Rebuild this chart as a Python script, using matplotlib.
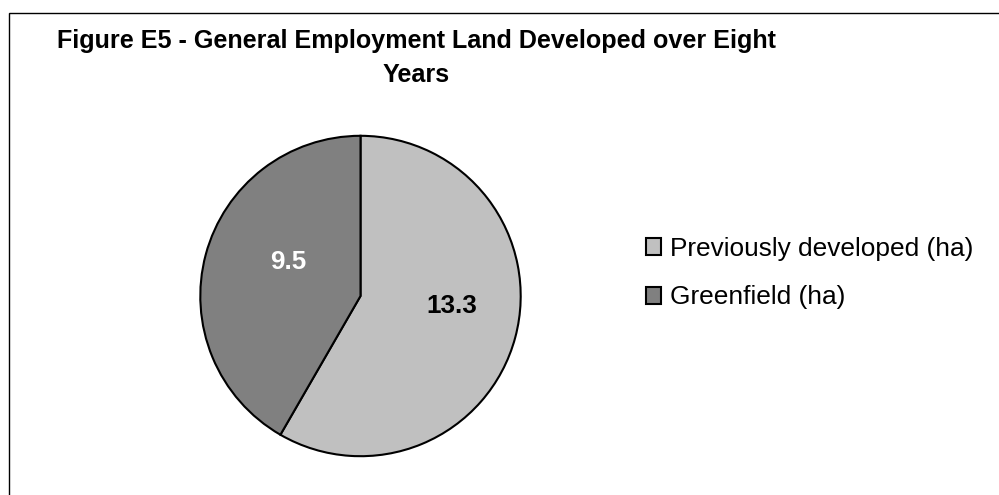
import matplotlib
matplotlib.use("Agg")
import matplotlib.pyplot as plt
from matplotlib.patches import Rectangle, Patch

plt.rcParams['font.family'] = ['Liberation Sans', 'DejaVu Sans']

categories = ["Previously developed (ha)", "Greenfield (ha)"]
values = [13.3, 9.5]
value_labels = ["13.3", "9.5"]
colors = ["#C0C0C0", "#808080"]
label_colors = ["black", "white"]

W, H = 999, 495
fig = plt.figure(figsize=(W / 100, H / 100), dpi=100)
fig.patch.set_facecolor("white")

# outer frame (extends past right / bottom edges as in reference)
fig.patches.append(Rectangle((9 / W, -0.5), 2.0, 1.5 - 12.7 / H,
                             transform=fig.transFigure, fill=False,
                             edgecolor="black", linewidth=1.0, zorder=0))

# title
fig.text(416.5 / W, 1 - 48 / H, "Figure E5 - General Employment Land Developed over Eight",
         ha="center", va="baseline", fontsize=18.1, fontweight="bold")
fig.text(416.5 / W, 1 - 82 / H, "Years",
         ha="center", va="baseline", fontsize=18.1, fontweight="bold")

# pie
cx, cy, r = 360.5, 296, 161
ax = fig.add_axes([(cx - r) / W, (H - cy - r) / H, 2 * r / W, 2 * r / H])
wedges, _ = ax.pie(values, colors=colors, startangle=90, counterclock=False,
                   wedgeprops=dict(edgecolor="black", linewidth=1.5))
ax.set_xlim(-1.005, 1.005)
ax.set_ylim(-1.005, 1.005)
ax.axis("off")

label_pos = [(0.57, -0.06), (-0.45, 0.21)]
for txt, (px, py), c in zip(value_labels, label_pos, label_colors):
    ax.text(px, py, txt, ha="center", va="center", fontsize=18.7,
            fontweight="bold", color=c)

handles = [Patch(facecolor=c, edgecolor="black", linewidth=1.5) for c in colors]
fig.legend(handles, categories, loc="center left",
           bbox_to_anchor=(645.5 / W, 1 - 273 / H), frameon=False,
           fontsize=18.9, handlelength=0.6, handleheight=0.6,
           handletextpad=0.35, labelspacing=0.95, borderpad=0, borderaxespad=0)

fig.savefig("out.png", dpi=100)
